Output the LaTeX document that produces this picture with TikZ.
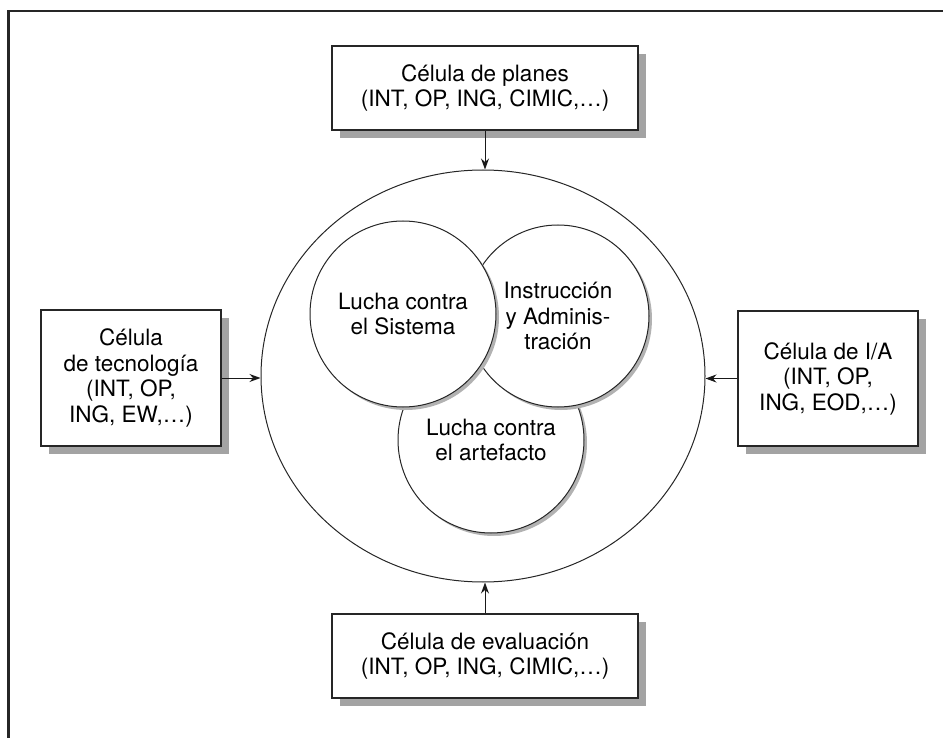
\documentclass[tikz,border=0pt]{standalone}
\usepackage{fontspec}
\setmainfont{TeX Gyre Heros}
\usetikzlibrary{arrows.meta, shapes.geometric, shadows}

\begin{document}
\begin{tikzpicture}[
    x=1pt, y=-1pt,
    every node/.style={font=\fontsize{22.5}{25.5}\selectfont},
    cell/.style={draw=black!85, line width=1.1pt, fill=white, align=center, inner sep=0pt,
                 drop shadow={shadow xshift=8pt, shadow yshift=-8pt, fill=black!36, opacity=1}},
    area/.style={draw=black!85, circle, line width=1pt, fill=white, minimum size=186pt,
                 inner sep=0pt, align=center,
                 drop shadow={shadow xshift=3pt, shadow yshift=-3pt, fill=black!30, opacity=1}},
    feed/.style={-{Stealth[length=11pt, width=8pt]}, line width=1pt, black!90}
  ]
  \useasboundingbox (0,0) rectangle (943,738);
  % marco
  \draw[line width=2.5pt, black!85] (8.5,738) -- (8.5,11) -- (943,11);

  % celulas
  \node[cell, minimum width=306pt, minimum height=84pt] (plan) at (485,88)
       {Célula de planes\\(INT, OP, ING, CIMIC,…)};
  \node[cell, minimum width=306pt, minimum height=84pt] (eval) at (485,656)
       {Célula de evaluación\\(INT, OP, ING, CIMIC,…)};
  \node[cell, minimum width=180pt, minimum height=136pt] (tec) at (131,378)
       {Célula\\de tecnología\\(INT, OP,\\ING, EW,…)};
  \node[cell, minimum width=180pt, minimum height=135pt] (ia) at (828,378.5)
       {Célula de I/A\\(INT, OP,\\ING, EOD,…)};

  % areas
  \node[draw=black!85, ellipse, line width=1pt, minimum width=444pt, minimum height=412pt,
        inner sep=0pt] (outer) at (483,376) {};
  \node[area, minimum size=186pt] (art) at (491,440) {Lucha contra\\el artefacto};
  \node[area, minimum size=182pt] (adm) at (558,316) {Instrucción\\y Adminis-\\tración};
  \node[area, minimum size=186pt] (sis) at (403,314) {Lucha contra\\el Sistema};

  \draw[feed] (plan.south) -- (plan.south |- outer.north);
  \draw[feed] (eval.north) -- (eval.north |- outer.south);
  \draw[feed] (tec.east) -- (tec.east -| outer.west);
  \draw[feed] (ia.west) -- (ia.west -| outer.east);
\end{tikzpicture}
\end{document}
